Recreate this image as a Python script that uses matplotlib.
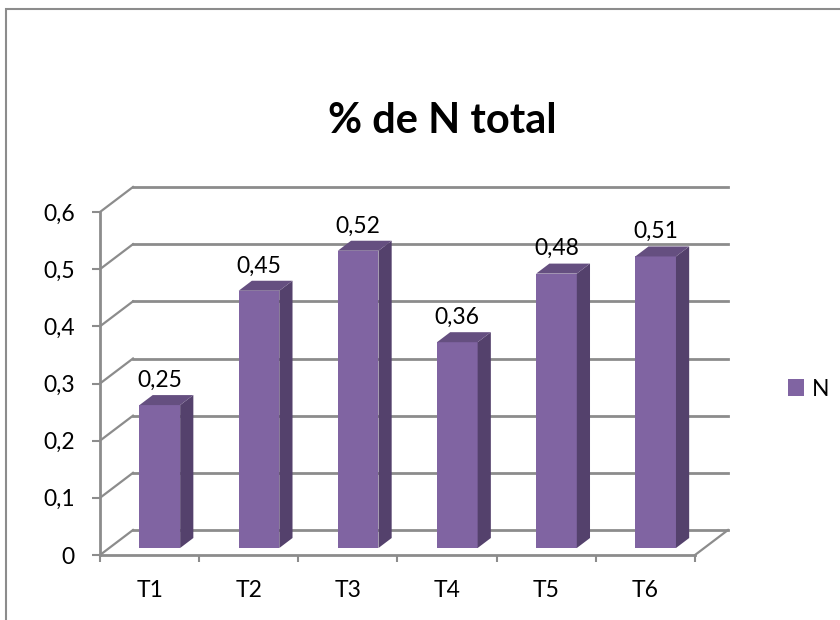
import numpy as np
import matplotlib
matplotlib.use("Agg")
import matplotlib.pyplot as plt
from matplotlib.patches import Polygon, Patch, Rectangle
from matplotlib.ticker import FuncFormatter

categories = ["T1", "T2", "T3", "T4", "T5", "T6"]
values = [0.25, 0.45, 0.52, 0.36, 0.48, 0.51]
yticks = [0, 0.1, 0.2, 0.3, 0.4, 0.5, 0.6]
series_name = "N"
title = "% de N total"

FRONT = "#8064A2"
SIDE = "#54416C"
TOP = "#654F80"
GRID = "#8C8C8C"

plt.rcParams["font.family"] = ["Lato", "DejaVu Sans"]

fig = plt.figure(figsize=(8.4, 6.2), dpi=100)
ax = fig.add_axes([100 / 840, 65 / 620, 595 / 840, 343 / 620])
ax.set_xlim(-0.5, len(categories) - 0.5)
ax.set_ylim(0, 0.6)

# depth of the pseudo-3D box, in data units
DX = 33 * len(categories) / 595
DY = 25 * 0.6 / 343

# back wall gridlines plus the diagonals on the left wall
for t in yticks:
    ax.plot([-0.5 + DX, len(categories) - 0.5 + DX], [t + DY, t + DY],
            color=GRID, lw=2, clip_on=False, zorder=1)
    ax.plot([-0.5, -0.5 + DX], [t, t + DY], color=GRID, lw=1.6,
            clip_on=False, zorder=1)
# right edge of the floor
ax.plot([len(categories) - 0.5, len(categories) - 0.5 + DX], [0, DY],
        color=GRID, lw=1.6, clip_on=False, zorder=1)

# bars: front face with ax.bar, side and top as polygons
d0, d1 = 0.28, 0.68
w = 0.41
x = np.arange(len(categories)) + d0 * DX + 0.01
base = d0 * DY
ddx, ddy = (d1 - d0) * DX, (d1 - d0) * DY
ax.bar(x, values, width=w, bottom=base, color=FRONT, zorder=3, clip_on=False)
for xi, v in zip(x, values):
    xl, xr = xi - w / 2, xi + w / 2
    top = base + v
    ax.add_patch(Polygon([(xr, base), (xr + ddx, base + ddy), (xr + ddx, top + ddy), (xr, top)],
                         closed=True, facecolor=SIDE, edgecolor="none", zorder=3, clip_on=False))
    ax.add_patch(Polygon([(xl, top), (xr, top), (xr + ddx, top + ddy), (xl + ddx, top + ddy)],
                         closed=True, facecolor=TOP, edgecolor="none", zorder=3, clip_on=False))
    ax.annotate(f"{v:.2f}".replace(".", ","), (xi, top + ddy), xytext=(0, 6),
                textcoords="offset points", ha="center", va="baseline",
                fontsize=16.5, zorder=4)

# axes
for side in ["top", "right"]:
    ax.spines[side].set_visible(False)
for side in ["left", "bottom"]:
    ax.spines[side].set_color(GRID)
    ax.spines[side].set_linewidth(2)
    ax.spines[side].set_zorder(2)

ax.set_yticks(yticks)
ax.yaxis.set_major_formatter(FuncFormatter(lambda v, p: "0" if v == 0 else f"{v:.1f}".replace(".", ",")))
ax.tick_params(axis="y", length=6, width=1.5, color=GRID, pad=12, labelsize=16.5)

ax.set_xticks(np.arange(-0.5, len(categories), 1))
ax.set_xticklabels([])
ax.set_xticks(np.arange(len(categories)), minor=True)
ax.set_xticklabels(categories, minor=True)
ax.tick_params(axis="x", which="major", length=5, width=1.5, color=GRID)
ax.tick_params(axis="x", which="minor", length=0, pad=18, labelsize=16.5)

fig.text(442 / 840, 1 - 133 / 620, title, ha="center", va="baseline",
         fontsize=30, fontweight="bold")

fig.legend(handles=[Patch(facecolor=FRONT, label=series_name)], loc="center left",
           bbox_to_anchor=(788 / 840, 1 - 389 / 620), frameon=False, fontsize=16.5,
           handlelength=0.7, handleheight=0.7, handletextpad=0.35, borderpad=0,
           borderaxespad=0)

# chart area border
fig.add_artist(Rectangle((6 / 840, -0.05), 1.0, 1.05 - 9 / 620, transform=fig.transFigure,
                         fill=False, edgecolor=GRID, lw=1.5))

fig.savefig("out.png", dpi=100)
